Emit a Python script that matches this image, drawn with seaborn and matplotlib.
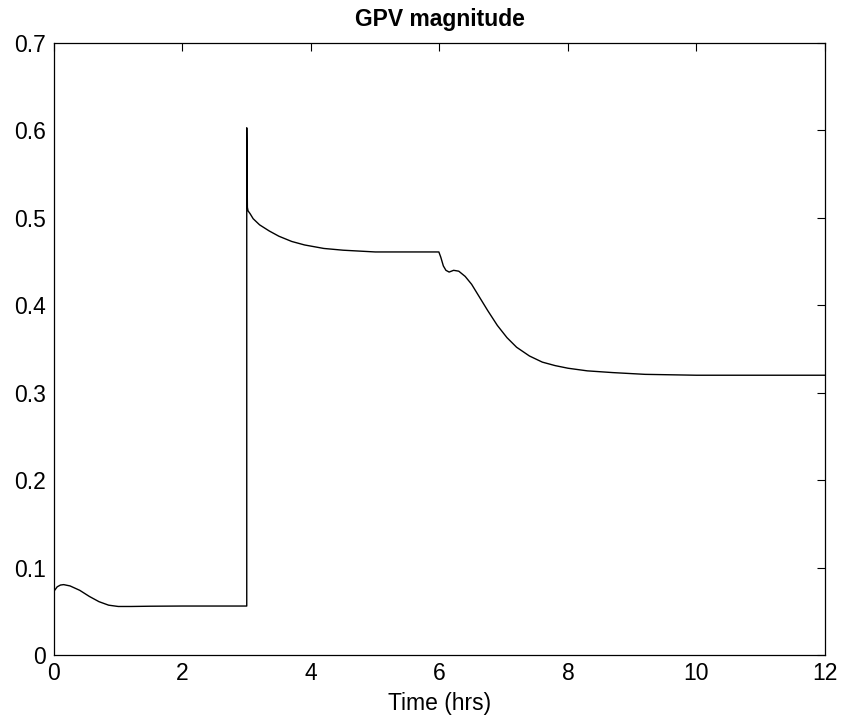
import matplotlib
matplotlib.use("Agg")
import matplotlib.pyplot as plt
import seaborn as sns
import pandas as pd

time_hrs = [0, 0.05, 0.1, 0.15, 0.25, 0.4, 0.55, 0.7, 0.85, 1.0, 1.2, 1.5, 2.0, 2.5, 2.99,
            3.0, 3.0, 3.01, 3.02, 3.05, 3.1, 3.2, 3.35, 3.5, 3.7, 3.9, 4.2, 4.5, 5.0, 5.5, 5.99,
            6.02, 6.06, 6.1, 6.15, 6.22, 6.3, 6.4, 6.5, 6.6, 6.75, 6.9, 7.05, 7.2, 7.4, 7.6,
            7.8, 8.0, 8.3, 8.7, 9.2, 10, 11, 12]
gpv_mag = [0.073, 0.078, 0.080, 0.0805, 0.079, 0.074, 0.067, 0.061, 0.057, 0.0555, 0.0555,
           0.0558, 0.056, 0.056, 0.056,
           0.056, 0.603, 0.512, 0.508, 0.505, 0.499, 0.492, 0.485, 0.479, 0.473, 0.469, 0.465,
           0.463, 0.461, 0.461, 0.461,
           0.455, 0.445, 0.440, 0.438, 0.440, 0.439, 0.433, 0.424, 0.412, 0.394, 0.377, 0.363,
           0.352, 0.342, 0.335, 0.331, 0.328, 0.325, 0.323, 0.321, 0.320, 0.320, 0.320]

x_ticks = [0, 2, 4, 6, 8, 10, 12]
y_ticks = [0, 0.1, 0.2, 0.3, 0.4, 0.5, 0.6, 0.7]
y_tick_labels = ["0", "0.1", "0.2", "0.3", "0.4", "0.5", "0.6", "0.7"]

sns.set_style("white")
plt.rcParams['font.family'] = ['Liberation Sans', 'DejaVu Sans']
plt.rcParams['text.color'] = 'black'
plt.rcParams['axes.labelcolor'] = 'black'

df = pd.DataFrame({"t": time_hrs, "v": gpv_mag})

fig = plt.figure(figsize=(8.45, 7.23), dpi=100)
ax = fig.add_axes([54/845, 68/723, 771/845, 612/723])
sns.lineplot(data=df, x="t", y="v", ax=ax, sort=False, estimator=None,
             color="black", linewidth=1.0)

ax.set_xlim(0, 12)
ax.set_ylim(0, 0.7)
ax.set_xticks(x_ticks)
ax.set_xticklabels([str(v) for v in x_ticks])
ax.set_yticks(y_ticks)
ax.set_yticklabels(y_tick_labels)
ax.tick_params(direction="in", length=6, width=0.8, top=True, right=True,
               labelsize=16.5, colors="black")
ax.tick_params(axis="x", pad=5)
ax.tick_params(axis="y", pad=6)
for s in ax.spines.values():
    s.set_color("black")
    s.set_linewidth(0.9)
    s.set_visible(True)
ax.set_xlabel("Time (hrs)", fontsize=16.5, labelpad=5, color="black")
ax.set_ylabel("")
ax.set_title("GPV magnitude", fontsize=16.5, fontweight="bold", pad=12, color="black")

fig.savefig("out.png", dpi=100)
